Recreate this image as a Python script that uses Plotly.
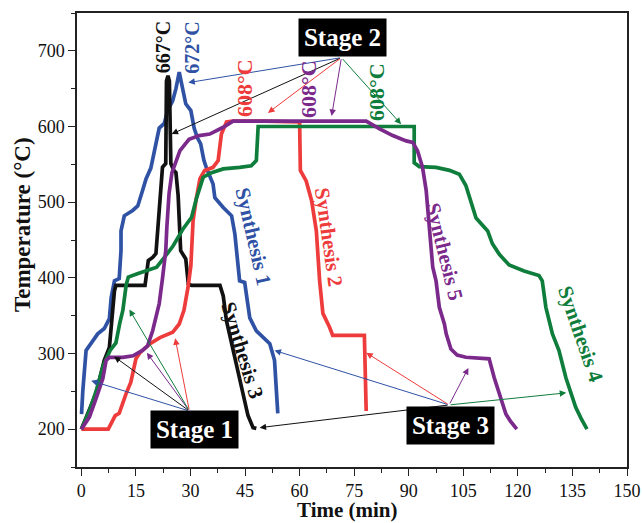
import plotly.graph_objects as go

# ---------------- data (time in min, temperature in °C) ----------------
s1_t = [0.05, 0.4, 1.3, 2.7, 4.5, 6.3, 7.7, 8.2, 9.1, 10.4, 10.9, 10.9, 11.8, 14.1, 15.5, 16.8, 17.8, 19.1, 20.0,
        21.4, 22.8, 23.7, 25.1, 26.0, 26.9, 27.8, 28.7, 30.1, 31.0, 31.9, 32.8, 33.7, 34.4, 36.2, 36.7, 39.0, 41.3,
        42.2, 43.5, 44.9, 46.3, 48.1, 51.8, 53.1, 54.0]
s1_T = [220, 251, 304, 313, 326, 333, 346, 374, 396, 399, 436, 462, 482, 489, 495, 515, 531, 545, 568,
        598, 604, 621, 634, 650, 672, 651, 630, 621, 598, 585, 577, 555, 545, 524, 506, 493, 482,
        458, 396, 394, 347, 330, 313, 291, 221]

s2_t = [0, 7.4, 9.3, 10.4, 12.3, 13.6, 15.0, 16.1, 18.9, 21.6, 25.1, 26.9, 28.2, 29.3, 30.1, 30.7, 31.5, 32.6,
        33.9, 36.2, 37.6, 38.5, 39.9, 41.6, 50.4, 60.0, 60.2, 61.8, 63.3, 64.6, 65.5, 66.4, 68.2, 69.1, 77.8, 78.3]
s2_T = [200, 200, 218, 221, 247, 262, 293, 301, 313, 321, 328, 339, 357, 387, 416, 475, 502, 531,
        542, 546, 555, 590, 606, 607, 607, 606, 542, 528, 502, 462, 396, 353, 335, 324, 324, 224]

s3_t = [0, 4.0, 6.3, 7.7, 8.2, 9.1, 9.5, 17.5, 18.4, 19.6, 20.5, 21.9, 22.3, 23.2, 23.4, 23.8, 24.2, 24.6, 25.4,
        26.0, 26.6, 27.3, 28.7, 29.4, 30.3, 38.1, 39.0, 39.9, 41.7, 43.5, 45.8, 47.2, 48.1]
s3_T = [200, 247, 291, 308, 335, 383, 390, 390, 423, 427, 432, 533, 546, 551, 660, 667, 660, 551, 542,
        539, 509, 436, 425, 392, 390, 390, 376, 343, 304, 264, 218, 202, 201]

s4_t = [0, 2.2, 4.3, 6.0, 7.9, 9.5, 10.6, 11.4, 12.3, 12.9, 15.2, 17.9, 20.7, 22.5, 25.2, 28.0, 30.3, 31.7, 33.5,
        35.8, 39.0, 43.5, 46.7, 48.1, 48.6, 91.5, 91.5, 92.9, 97.5, 101.2, 103.9, 105.7, 107.1, 108.5, 111.7,
        113.0, 114.9, 117.6, 121.7, 125.8, 126.7, 127.7, 129.5, 131.3, 133.2, 135.9, 137.4, 139.0]
s4_T = [200, 224, 254, 284, 304, 314, 341, 357, 390, 401, 405, 409, 414, 425, 442, 465, 480, 506, 533,
        539, 544, 546, 548, 555, 600, 600, 552, 547, 546, 542, 537, 522, 502, 479, 462,
        445, 431, 417, 409, 403, 396, 361, 326, 304, 268, 229, 214, 200]

s5_t = [0, 2.2, 4.0, 5.9, 6.8, 7.7, 11.4, 14.2, 16.8, 18.2, 19.6, 20.7, 21.4, 22.3, 23.2, 23.5, 24.1, 24.9, 25.7,
        27.1, 29.6, 32.4, 35.3, 39.0, 41.7, 78.3, 82.0, 85.6, 89.3, 91.1, 92.4, 93.8, 94.8, 95.7, 96.6, 97.5,
        98.4, 99.8, 100.3, 101.6, 103.3, 105.7, 112.1, 113.5, 114.9, 116.7, 117.9, 119.7]
s5_T = [200, 216, 240, 267, 291, 295, 295, 297, 304, 310, 330, 353, 366, 399, 436, 467, 511, 539, 550,
        568, 583, 588, 590, 599, 607, 607, 597, 588, 581, 579, 568, 546, 515, 460, 414, 396,
        361, 339, 326, 306, 298, 295, 293, 268, 247, 220, 211, 200]

x_ticks = [0, 15, 30, 45, 60, 75, 90, 105, 120, 135, 150]
y_ticks = [200, 300, 400, 500, 600, 700]

C_BLUE = "#2F52A5"
C_RED = "#EE3B3B"
C_BLACK = "#111111"
C_PURPLE = "#7B2A8C"
C_GREEN = "#0F7D3C"

# stage annotation arrows: (tail) -> list of (head x, head y, colour)
stage2_tail = (71.5, 691)
stage2_heads = [(29.4, 658, C_BLUE), (24.8, 590, C_BLACK), (51.3, 618, C_RED),
                (68.8, 614, C_PURPLE), (87.9, 603, C_GREEN)]
stage1_tail = (29.7, 224)
stage1_heads = [(2.7, 264, C_BLUE), (9.0, 296, C_BLACK), (18.0, 301, C_PURPLE),
                (13.2, 358, C_GREEN), (25.8, 320, C_RED)]
stage3_tail = (101.1, 232)
stage3_heads = [(49.0, 202, C_BLACK), (53.1, 304, C_BLUE), (78.3, 301, C_RED),
                (106.4, 281, C_PURPLE), (133.3, 248, C_GREEN)]

SERIF = "Liberation Serif, Times New Roman, serif"

fig = go.Figure()
for t, T, c in [(s1_t, s1_T, C_BLUE), (s3_t, s3_T, C_BLACK), (s2_t, s2_T, C_RED),
                (s4_t, s4_T, C_GREEN), (s5_t, s5_T, C_PURPLE)]:
    fig.add_trace(go.Scatter(x=t, y=T, mode="lines", line=dict(color=c, width=3.7),
                             showlegend=False, hoverinfo="skip"))

ann = []
for tail, heads in [(stage2_tail, stage2_heads), (stage1_tail, stage1_heads), (stage3_tail, stage3_heads)]:
    for hx, hy, c in heads:
        ann.append(dict(x=hx, y=hy, ax=tail[0], ay=tail[1], xref="x", yref="y", axref="x", ayref="y",
                        text="", showarrow=True, arrowhead=2, arrowsize=1.3, arrowwidth=1,
                        arrowcolor=c, standoff=0, startstandoff=0))

for txt, x, y in [("Stage 2", 71.7, 718), ("Stage 1", 31.0, 199), ("Stage 3", 101.5, 205)]:
    ann.append(dict(x=x, y=y, xref="x", yref="y", text="<b>%s</b>" % txt, showarrow=False,
                    font=dict(family=SERIF, size=25, color="white"), bgcolor="black",
                    borderpad=5, width=77, height=27))

# temperature labels (vertical)
for txt, x, y, c, s in [("667°C", 22.5, 705, C_BLACK, 20), ("672°C", 30.4, 704, C_BLUE, 20),
                        ("608°C", 45.0, 651, C_RED, 22), ("608°C", 62.4, 650, C_PURPLE, 22),
                        ("608°C", 81.1, 646, C_GREEN, 22)]:
    ann.append(dict(x=x, y=y, xref="x", yref="y", text="<b>%s</b>" % txt, showarrow=False, textangle=-90,
                    font=dict(family=SERIF, size=s, color=c)))

# synthesis labels
for txt, x, y, c, a in [("Synthesis 1", 47.3, 454, C_BLUE, 77), ("Synthesis 2", 68.0, 454, C_RED, 82),
                        ("Synthesis 3", 44.3, 305, C_BLACK, 73), ("Synthesis 5", 99.8, 434, C_PURPLE, 76),
                        ("Synthesis 4", 137.3, 326, C_GREEN, 71)]:
    ann.append(dict(x=x, y=y, xref="x", yref="y", text="<b>%s</b>" % txt, showarrow=False, textangle=a,
                    font=dict(family=SERIF, size=21, color=c)))

# axis titles
ann.append(dict(x=0.491, y=-0.1233, xref="paper", yref="paper", text="<b>Time (min)</b>", showarrow=False,
                xanchor="center", yanchor="bottom", borderpad=0,
                font=dict(family=SERIF, size=21, color="#111")))
ann.append(dict(x=-0.1, y=0.533, xref="paper", yref="paper", text="<b>Temperature (°C)</b>", showarrow=False,
                xanchor="center", yanchor="middle", textangle=-90, font=dict(family=SERIF, size=23, color="#111")))

fig.update_layout(
    width=642, height=523,
    margin=dict(l=77, r=15, t=13, b=56),
    paper_bgcolor="white", plot_bgcolor="white",
    annotations=ann,
    font=dict(family=SERIF, size=18, color="#111"),
)
fig.update_xaxes(range=[-1.2, 150], tickvals=x_ticks, ticks="outside", ticklen=7, tickwidth=1.3,
                 tickcolor="#222", showline=True, linecolor="#222", linewidth=1.5, mirror=True,
                 showgrid=False, zeroline=False, tickfont=dict(size=18), automargin=False,
                 minor=dict(dtick=7.5, tick0=0, ticks="outside", ticklen=4, tickwidth=1.2, tickcolor="#222"))
fig.update_yaxes(range=[150, 750], tickvals=y_ticks, ticks="outside", ticklen=7, tickwidth=1.3,
                 tickcolor="#222", showline=True, linecolor="#222", linewidth=1.5, mirror=True,
                 showgrid=False, zeroline=False, tickfont=dict(size=18), automargin=False,
                 minor=dict(dtick=50, tick0=0, ticks="outside", ticklen=4, tickwidth=1.2, tickcolor="#222"))

fig.write_html("out.html")
